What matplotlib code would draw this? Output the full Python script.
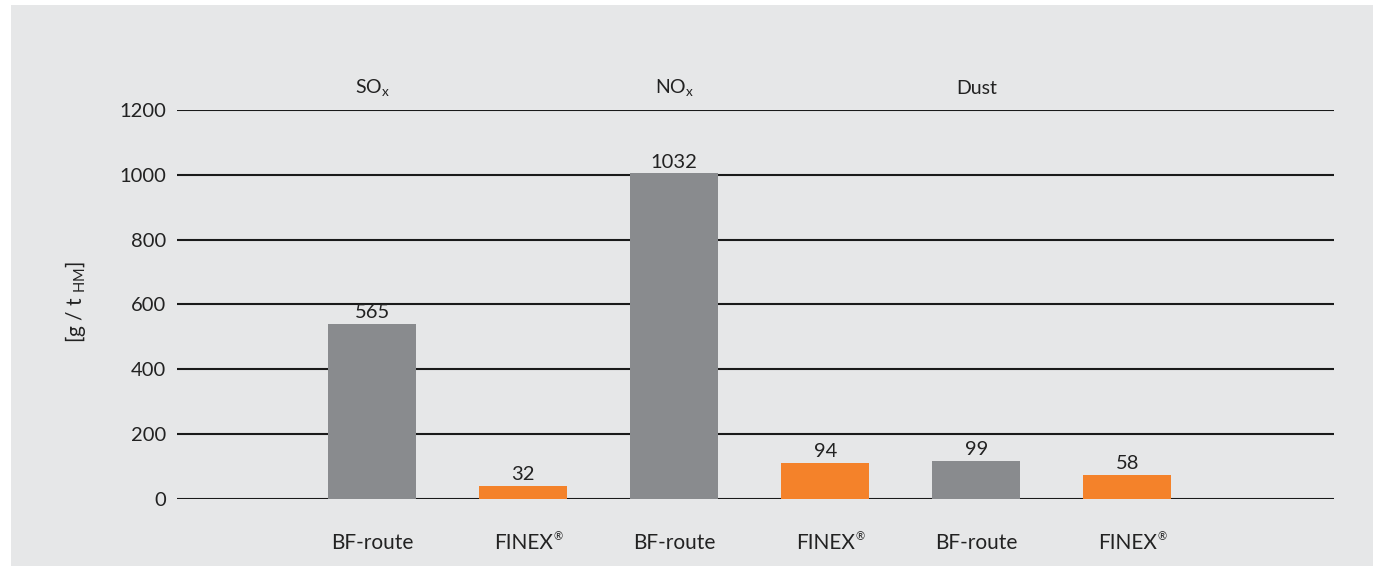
import matplotlib
matplotlib.use("Agg")
import matplotlib.pyplot as plt
from matplotlib.patches import Rectangle
import numpy as np

# ---- data ----
categories = ["BF-route", "FINEX®", "BF-route", "FINEX®", "BF-route", "FINEX®"]
value_labels = [565, 32, 1032, 94, 99, 58]          # printed values
drawn_heights = [540, 39, 1004, 110, 116, 73]        # bar heights as drawn in the picture
routes = ["BF", "FINEX", "BF", "FINEX", "BF", "FINEX"]
groups = ["SO", "NO", "Dust"]
group_subs = ["x", "x", ""]
yticks = [0, 200, 400, 600, 800, 1000, 1200]

# ---- styles ----
BG = "#e6e7e8"
TXT = "#222222"
colors = {"BF": "#898b8e", "FINEX": "#f4822a"}
FONT = ["Lato", "DejaVu Sans"]
plt.rcParams["font.family"] = FONT
plt.rcParams["mathtext.fontset"] = "custom"
plt.rcParams["mathtext.rm"] = "Lato"

W, H = 1373, 566
fig = plt.figure(figsize=(W / 100, H / 100), dpi=100)
fig.patch.set_facecolor("white")
fig.patches.append(Rectangle((11 / W, 0), 1 - 11 / W, 1 - 5 / H,
                             transform=fig.transFigure, facecolor=BG,
                             edgecolor="none", zorder=-10))

ax_left, ax_right = 177 / W, 1334 / W
ax_bottom, ax_top = (H - 498.7) / H, (H - 110) / H
ax = fig.add_axes([ax_left, ax_bottom, ax_right - ax_left, ax_top - ax_bottom])
ax.set_facecolor("none")

x = np.arange(len(categories), dtype=float)
ax.set_xlim(-1.293, 6.369)
ax.set_ylim(0, 1200)

for yv in yticks:
    ax.axhline(yv, color="#1a1a1a", lw=1.5, zorder=1)

ax.bar(x, drawn_heights, width=0.58,
       color=[colors[r] for r in routes], zorder=2)

for xi, h, lab in zip(x, drawn_heights, value_labels):
    ax.annotate(str(lab), (xi, h), xytext=(0, 2), textcoords="offset points",
                ha="center", va="bottom", fontsize=14.5, color=TXT)

for sp in ax.spines.values():
    sp.set_visible(False)

ax.set_yticks(yticks)
ax.set_yticklabels([str(v) for v in yticks], fontsize=14.5, color=TXT)
ax.tick_params(axis="y", length=0, pad=8)
ax.set_xticks([])

# category labels with small superscript ®
fig.canvas.draw()
renderer = fig.canvas.get_renderer()
cat_y = 549  # baseline in pixels from top
for xi, c in zip(x, categories):
    base = c.replace("®", "")
    t = ax.annotate(base, (xi, 0), xycoords=("data", "axes fraction"),
                    xytext=(0, -(cat_y - 498.7) * 72 / 100), textcoords="offset points",
                    ha="center", va="baseline", fontsize=15, color=TXT)
    if "®" in c:
        bb = t.get_window_extent(renderer)
        ax.annotate("®", (xi, 0), xycoords=("data", "axes fraction"),
                    xytext=((bb.width / 2 + 1) * 72 / 100, -(cat_y - 498.7 - 9) * 72 / 100),
                    textcoords="offset points", ha="left", va="baseline",
                    fontsize=8, color=TXT)

# group headers
for gi, (g, s) in enumerate(zip(groups, group_subs)):
    xc = x[2 * gi]
    txt = g if not s else g + r"$_\mathregular{" + s + "}$"
    ax.text(xc, 1.0 + 22 / 388.7, txt, transform=ax.get_xaxis_transform(),
            ha="center", va="center", fontsize=14, color=TXT)

# y label
fig.text(75 / W, 1 - 302 / H, r"[g / t $_\mathregular{HM}$]", rotation=90,
         ha="center", va="center", fontsize=15, color=TXT)

fig.savefig("out.png", dpi=100)
